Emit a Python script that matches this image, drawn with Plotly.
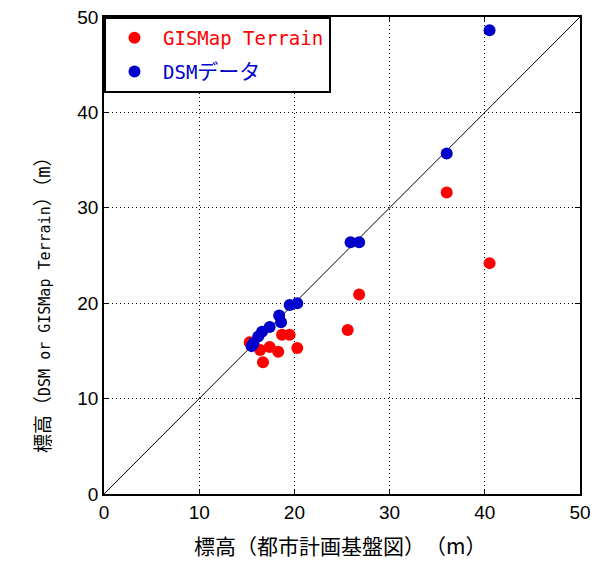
import plotly.graph_objects as go

gis_x = [15.3, 16.4, 17.4, 18.3, 18.7, 19.5, 20.3, 16.7, 25.6, 26.8, 36.0, 40.5]
gis_y = [15.9, 15.1, 15.4, 14.9, 16.7, 16.7, 15.3, 13.8, 17.2, 20.9, 31.6, 24.2]

dsm_x = [15.5, 15.7, 16.2, 16.6, 17.4, 18.6, 18.4, 19.5, 20.3, 25.9, 26.8, 36.0, 40.5]
dsm_y = [15.5, 15.8, 16.5, 17.0, 17.5, 18.0, 18.7, 19.8, 20.0, 26.4, 26.4, 35.7, 48.6]

diag = [0, 50]
ticks = [0, 10, 20, 30, 40, 50]

cjk = "Noto Sans CJK JP"
tickfont_family = "Liberation Sans Narrow, Liberation Sans, sans-serif"
mono = "DejaVu Sans Mono, Noto Sans CJK JP"

fig = go.Figure()
fig.add_trace(go.Scatter(x=diag, y=diag, mode="lines", line=dict(color="black", width=1),
                         showlegend=False, hoverinfo="skip"))
fig.add_trace(go.Scatter(x=gis_x, y=gis_y, mode="markers",
                         marker=dict(color="#ff0000", size=12), legendgroup="g1",
                         name='<span style="color:#ff0000">GISMap Terrain</span>'))
fig.add_trace(go.Scatter(x=dsm_x, y=dsm_y, mode="markers",
                         marker=dict(color="#0000cc", size=12), legendgroup="g2",
                         name='<span style="color:#0000cc">DSM</span>'
                              '<span style="color:#0000cc;font-size:21px">データ</span>'))

axis_common = dict(range=[0, 50], tickvals=ticks, showline=True, linecolor="black", linewidth=1.5,
                   mirror="ticks", ticks="inside", ticklen=5, tickcolor="black",
                   showgrid=True, gridcolor="black", griddash="1px,3px", gridwidth=1,
                   zeroline=False, automargin=False,
                   tickfont=dict(size=19, color="black", family=tickfont_family))

fig.update_xaxes(**axis_common)
fig.update_yaxes(**axis_common)

fig.add_annotation(text="標高（都市計画基盤図）　（m）", xref="paper", yref="paper",
                   x=(340 - 104) / 476, y=(494 - 562) / 477, showarrow=False,
                   font=dict(size=21, color="black", family=cjk))
fig.add_annotation(text='<span style="font-size:19px">標高（</span>DSM or GISMap Terrain'
                        '<span style="font-size:19px">）（m）</span>',
                   xref="paper", yref="paper",
                   x=(30 - 104) / 476, y=(494 - 300) / 477, showarrow=False, textangle=-90,
                   font=dict(size=15, color="black", family=mono))

fig.update_layout(
    width=600, height=575,
    margin=dict(l=104, r=20, t=17, b=81),
    plot_bgcolor="white", paper_bgcolor="white",
    font=dict(family=cjk, color="black"),
    legend=dict(x=0, y=1, xanchor="left", yanchor="top", bgcolor="white",
                bordercolor="black", borderwidth=2, font=dict(size=19, family=mono),
                itemsizing="constant", itemwidth=47, tracegroupgap=6,
                traceorder="grouped"),
)

fig.write_html("out.html", post_script="document.body.style.margin='0';",
               config={"displayModeBar": False})
